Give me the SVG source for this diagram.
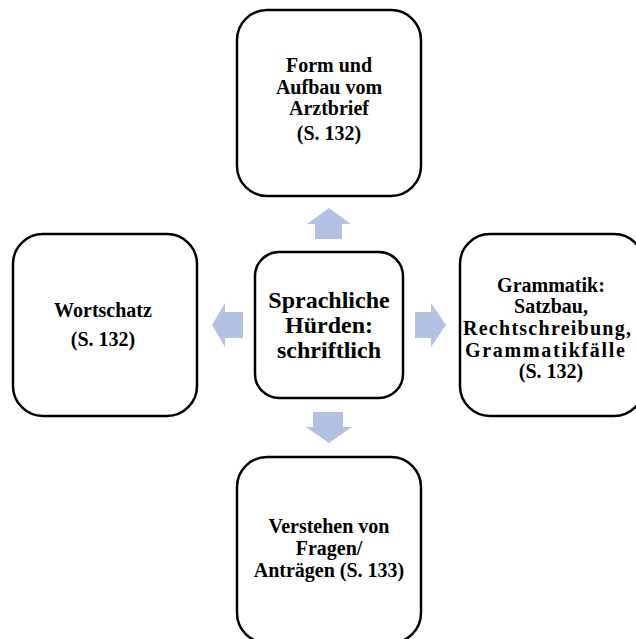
<svg xmlns="http://www.w3.org/2000/svg" width="636" height="639" viewBox="0 0 636 639">
  <style>
    .box { fill: #ffffff; stroke: #000000; stroke-width: 2.5; }
    .arrow { fill: #b4c1e2; stroke: none; }
    text { font-family: "Liberation Serif", "DejaVu Serif", "Times New Roman", serif; font-weight: bold; font-size: 20px; fill: #000000; text-anchor: middle; }
    .hub { font-size: 24px; }
  </style>
  <rect width="636" height="639" fill="#ffffff"/>

  <!-- block arrows pointing outward from the hub -->
  <g id="connectors">
    <polygon class="arrow" points="315,239 315,224 307,224 329,208 351,224 342,224 342,239"/>
    <polygon class="arrow" points="243,312 225,312 225,303 212,325 225,347 225,338 243,338"/>
    <polygon class="arrow" points="415,312 431,312 431,303 446,325 431,347 431,338 415,338"/>
    <polygon class="arrow" points="313,412 343,412 343,427 352,427 329,443 306,427 313,427"/>
  </g>

  <g id="hub">
    <rect class="box" x="255" y="252" width="148" height="146" rx="24" ry="24"/>
    <text class="hub" x="329" y="308">Sprachliche</text>
    <text class="hub" x="329" y="333">Hürden:</text>
    <text class="hub" x="329" y="358">schriftlich</text>
  </g>

  <g id="node-form">
    <rect class="box" x="237" y="10" width="184" height="186" rx="30" ry="30"/>
    <text x="329" y="72">Form und</text>
    <text x="329" y="94">Aufbau vom</text>
    <text x="329" y="115">Arztbrief</text>
    <text x="329" y="140">(S. 132)</text>
  </g>

  <g id="node-wortschatz">
    <rect class="box" x="13" y="234" width="184" height="182" rx="30" ry="30"/>
    <text x="103" y="317">Wortschatz</text>
    <text x="103" y="346">(S. 132)</text>
  </g>

  <g id="node-grammatik">
    <rect class="box" x="460" y="234" width="184" height="182" rx="30" ry="30"/>
    <text x="551" y="292">Grammatik:</text>
    <text x="551" y="313">Satzbau,</text>
    <text x="547" y="335" textLength="168" lengthAdjust="spacing">Rechtschreibung,</text>
    <text x="545" y="357" textLength="160" lengthAdjust="spacing">Grammatikfälle</text>
    <text x="551" y="378">(S. 132)</text>
  </g>

  <g id="node-verstehen">
    <rect class="box" x="237" y="457" width="184" height="186" rx="30" ry="30"/>
    <text x="329" y="533">Verstehen von</text>
    <text x="329" y="555">Fragen/</text>
    <text x="329" y="577">Anträgen (S. 133)</text>
  </g>
</svg>
